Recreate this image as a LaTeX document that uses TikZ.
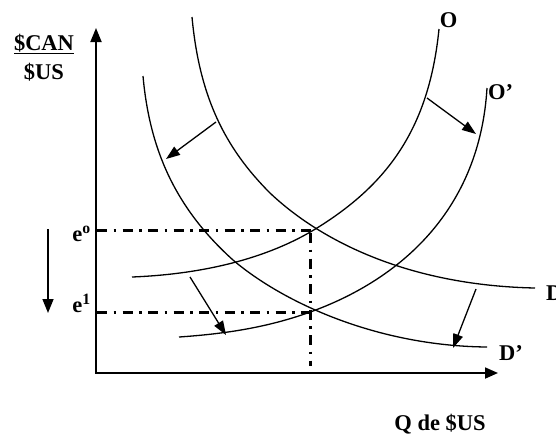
\documentclass[tikz,border=0pt]{standalone}
\usepackage{fontspec}
\setmainfont{Liberation Serif}
\usetikzlibrary{arrows.meta}
\begin{document}
\begin{tikzpicture}[x=1pt,y=-1pt,
  lbl/.style={inner sep=0pt, font=\fontsize{22.5}{25}\selectfont\bfseries},
  curve/.style={line width=1.3pt},
  axisline/.style={line width=1.8pt},
  shiftarrow/.style={line width=1.3pt, -{Triangle[length=14pt,width=10pt]}},
  guide/.style={line width=3pt, dash pattern=on 10pt off 6.5pt on 2.5pt off 6.5pt}]
\useasboundingbox (0,0) rectangle (556,437);
% axes
\coordinate (ytip) at (96,28);
\coordinate (orig) at (96,373);
\coordinate (xtip) at (498,373);
\draw[axisline, {Triangle[length=14pt,width=11pt]}-{Triangle[length=13pt,width=11pt]}] (ytip) -- (orig) -- (xtip);
% curves
\draw[curve] (192,17) .. controls (199.4,97) and (225,148) .. (270,193)
  .. controls (325,245) and (415,285.6) .. (535,288);
\draw[curve] (143,76) .. controls (149.3,146) and (173,206) .. (233,260)
  .. controls (283,302.5) and (377,346) .. (487,347);
\draw[curve] (132,277) .. controls (202,274.2) and (267,259) .. (317,228)
  .. controls (387,184.6) and (429,129) .. (439,29);
\draw[curve] (179,337) .. controls (224,333.9) and (268,327.7) .. (313,311)
  .. controls (403,277.7) and (479.8,208) .. (487,88);
% guides
\coordinate (g0a) at (97,230);
\coordinate (g0b) at (317,230);
\coordinate (gva) at (310,233);
\coordinate (gvb) at (310,366);
\coordinate (g1a) at (97,312);
\coordinate (g1b) at (313,312);
\draw[guide] (g0a) -- (g0b);
\draw[guide] (gva) -- (gvb);
\draw[guide] (g1a) -- (g1b);
% shift arrows
\coordinate (a1s) at (216,122); \coordinate (a1e) at (166,159);
\coordinate (a2s) at (427,98);  \coordinate (a2e) at (476,134);
\coordinate (a3s) at (190,277); \coordinate (a3e) at (226,335);
\coordinate (a4s) at (476,289); \coordinate (a4e) at (453,348);
\coordinate (a5s) at (48,229);  \coordinate (a5e) at (48,313);
\draw[shiftarrow] (a1s) -- (a1e);
\draw[shiftarrow] (a2s) -- (a2e);
\draw[shiftarrow] (a3s) -- (a3e);
\draw[shiftarrow] (a4s) -- (a4e);
\draw[shiftarrow, line width=1.5pt, -{Triangle[length=14pt,width=11pt]}] (a5s) -- (a5e);
% labels
\node[lbl, anchor=base] (can) at (44,50) {\underline{\$CAN}};
\node[lbl, anchor=base] (us) at (44,79) {\$US};
\node[lbl, anchor=base] (o) at (448.5,27) {O};
\node[lbl, anchor=base west] (op) at (488,99) {O’};
\node[lbl, anchor=base west] (d) at (546,300) {D};
\node[lbl, anchor=base west] (dp) at (499,360) {D’};
\node[lbl, anchor=base] (q) at (440,430) {Q de \$US};
\node[lbl, anchor=base east] (e0) at (91,241) {e\textsuperscript{o}};
\node[lbl, anchor=base east] (e1) at (91,312) {e\textsuperscript{1}};
\end{tikzpicture}
\end{document}
